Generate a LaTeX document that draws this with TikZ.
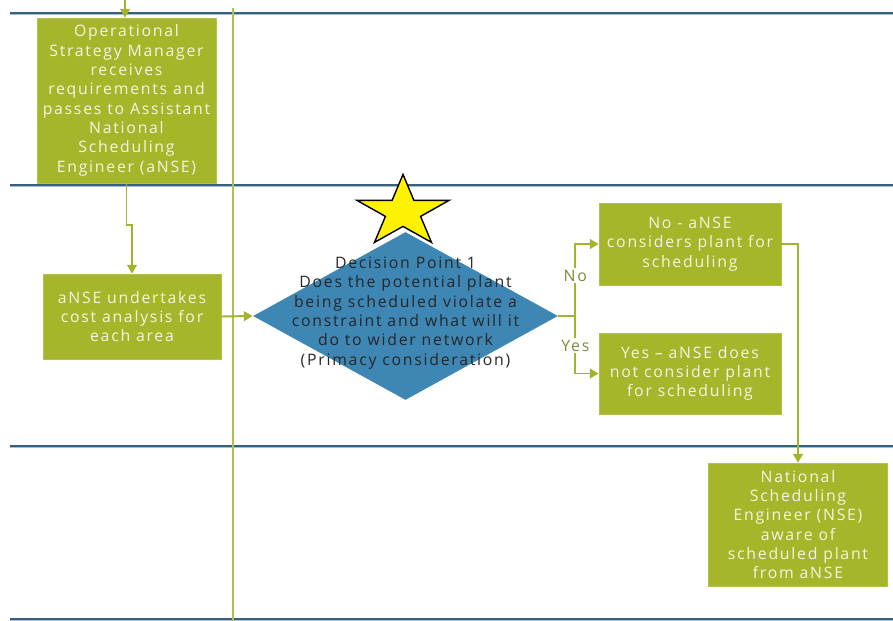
\documentclass[tikz,border=0pt]{standalone}
\usepackage{fontspec}
\setmainfont[LetterSpace=11]{Open Sans}
\usetikzlibrary{arrows.meta,shapes.geometric}
\definecolor{lanecol}{HTML}{35617F}
\definecolor{laneshade}{HTML}{A9BFCD}
\definecolor{procfill}{HTML}{A6B62A}
\definecolor{flowcol}{HTML}{A3B42C}
\definecolor{decfill}{HTML}{3E87B4}
\definecolor{txtlight}{HTML}{F3F6E4}
\definecolor{txtdark}{HTML}{262626}
\definecolor{branchtxt}{HTML}{7F8A3A}
\begin{document}
\begin{tikzpicture}[x=0.02cm,y=-0.02cm,
  font=\fontsize{9}{11}\selectfont,
  process/.style={fill=procfill, draw=procfill!85!white, line width=0.4pt,
    text=txtlight, align=center, inner sep=0pt},
  flow/.style={draw=flowcol, line width=1.1pt,
    -{Triangle[length=5pt,width=5.5pt]}},
  flowline/.style={draw=flowcol, line width=1.1pt},
  lane/.style={draw=lanecol, line width=1.3pt},
  branch/.style={fill=white, text=branchtxt, inner sep=1pt}]
\useasboundingbox (0,0) rectangle (893,621);

% swimlane separators
\foreach \yy in {13,185,446,619}{
  \draw[laneshade, line width=0.8pt] (10,\yy+1.6) -- (893,\yy+1.6);
  \draw[lane] (10,\yy) -- (893,\yy);
}
% lane boundary line
\draw[flowcol!85!white, line width=1.6pt] (233,8) -- (233,621);

% process boxes
\node[process, minimum width=3.58cm, minimum height=3.30cm] (b1) at (126.5,100.5)
  {Operational\\Strategy Manager\\receives\\requirements and\\passes to Assistant\\National\\Scheduling\\Engineer (aNSE)};
\node[process, minimum width=3.56cm, minimum height=1.70cm] (b2) at (132,316.5)
  {aNSE undertakes\\cost analysis for\\each area};
\node[process, minimum width=3.64cm, minimum height=1.64cm] (b3) at (690,244)
  {No - aNSE\\considers plant for\\scheduling};
\node[process, minimum width=3.64cm, minimum height=1.62cm] (b4) at (690,373.5)
  {Yes – aNSE does\\not consider plant\\for scheduling};
\node[process, minimum width=3.58cm, minimum height=2.46cm] (b5) at (798,524.5)
  {National\\Scheduling\\Engineer (NSE)\\aware of\\scheduled plant\\from aNSE};

% decision
\node[diamond, fill=decfill, inner sep=0pt, minimum width=6.1cm,
  minimum height=3.36cm, aspect=1.8] (dec) at (405.5,316) {};
\node[text=txtdark, align=center, inner sep=0pt] (dectext) at (405.5,313)
  {Decision Point 1\\Does the potential plant\\being scheduled violate a\\constraint and what will it\\do to wider network\\(Primacy consideration)};

% highlight star
\draw[black, line width=0.8pt, fill=yellow, line join=miter]
  (403,174.4) -- (392.1,200.4) -- (357,200.4) -- (385.4,216.4) -- (374.5,242.4)
  -- (403,226.4) -- (431.5,242.4) -- (420.6,216.4) -- (449,200.4) -- (413.9,200.4) -- cycle;

% connectors
\coordinate (topin) at (125,0);
\draw[flow] (topin) -- (topin |- b1.north);
\draw[flow] (b1.south) -- ++(0,42) -| (b2.north);
\draw[flow] (b2.east) -- (dec.west);
\draw[flowline] (dec.east) -- ++(17,0) coordinate (br);
\draw[flow] (br) |- (b3.west) node[branch, pos=0.28] {No};
\draw[flow] (br) |- (b4.west) node[branch, pos=0.26] {Yes};
\draw[flow] (b3.east) -| (b5.north);
\end{tikzpicture}
\end{document}
